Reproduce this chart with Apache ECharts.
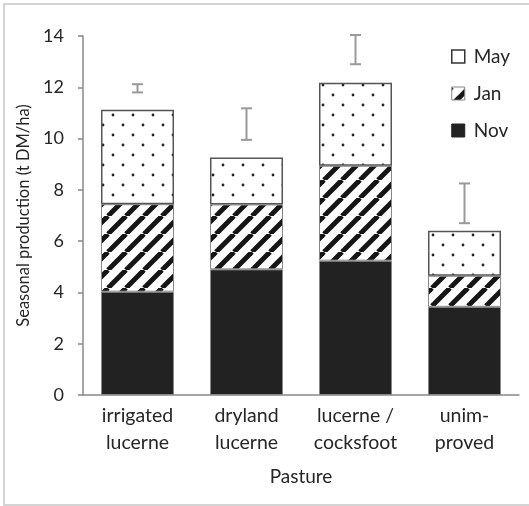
<!DOCTYPE html>
<html><head><meta charset="utf-8">
<script src="https://cdn.jsdelivr.net/npm/echarts@6/dist/echarts.min.js"></script>
<style>html,body{margin:0;padding:0;background:#fff}#c{width:529px;height:506px}</style>
</head><body><div id="c"></div>
<script>
// ---- data ----
const categories = ['irrigated\nlucerne', 'dryland\nlucerne', 'lucerne /\ncocksfoot', 'unim-\nproved'];
const novValues = [4.03, 4.90, 5.24, 3.44];
const janValues = [3.41, 2.53, 3.70, 1.21];
const mayValues = [3.68, 1.83, 3.24, 1.76];
const errLow = [11.80, 9.95, 12.90, 6.70];
const errHigh = [12.12, 11.18, 14.04, 8.25];
const yTicks = [0, 2, 4, 6, 8, 10, 12, 14];

// ---- patterns ----
function stripePattern() {
  const s = 18, c = document.createElement('canvas');
  c.width = c.height = s;
  const g = c.getContext('2d');
  g.fillStyle = '#fff'; g.fillRect(0, 0, s, s);
  g.strokeStyle = '#151515'; g.lineWidth = 5;
  for (let k = -1; k <= 1; k++) {
    g.beginPath(); g.moveTo(k * s, s); g.lineTo(k * s + s, 0); g.stroke();
  }
  return c;
}
function dotPattern() {
  const s = 20, c = document.createElement('canvas');
  c.width = c.height = s;
  const g = c.getContext('2d');
  g.fillStyle = '#fff'; g.fillRect(0, 0, s, s);
  g.fillStyle = '#222';
  [[3, 5], [13, 15]].forEach(p => { g.beginPath(); g.arc(p[0], p[1], 1.4, 0, Math.PI * 2); g.fill(); });
  return c;
}
const stripes = { image: stripePattern(), repeat: 'repeat' };
const dots = { image: dotPattern(), repeat: 'repeat' };

const FONT = 'Lato';
const TXT = '#262626';
const chart = echarts.init(document.getElementById('c'), null, { renderer: 'canvas' });
chart.setOption({
  animation: false,
  backgroundColor: '#fff',
  textStyle: { fontFamily: FONT },
  graphic: [{
    type: 'rect', shape: { x: 4, y: 4, width: 540, height: 501 },
    style: { fill: 'none', stroke: '#d4d4d4', lineWidth: 2 }, silent: true, z: -10
  }],
  grid: { left: 83, right: 10, top: 36, bottom: 111 },
  legend: {
    orient: 'vertical', left: 446, top: 42, itemWidth: 13, itemHeight: 13, itemGap: 18,
    textStyle: { fontFamily: FONT, fontSize: 19, color: TXT, padding: [0, 0, 0, 4] },
    data: [
      { name: 'May', icon: 'rect', itemStyle: { color: '#fff', borderColor: '#333', borderWidth: 1.5 } },
      { name: 'Jan', icon: 'rect', itemStyle: { color: stripes, borderColor: '#888', borderWidth: 1 } },
      { name: 'Nov', icon: 'rect', itemStyle: { color: '#222', borderColor: '#222', borderWidth: 1 } }
    ]
  },
  xAxis: {
    type: 'category', data: categories,
    name: 'Pasture', nameLocation: 'middle', nameGap: 72,
    nameTextStyle: { fontFamily: FONT, fontSize: 19, color: TXT },
    axisLine: { lineStyle: { color: '#888', width: 1.5 } },
    axisTick: { show: false },
    axisLabel: { fontFamily: FONT, fontSize: 19.5, color: TXT, lineHeight: 27, margin: 7, interval: 0 }
  },
  yAxis: {
    type: 'value', min: yTicks[0], max: yTicks[yTicks.length - 1], interval: 2,
    name: 'Seasonal production (t DM/ha)', nameLocation: 'middle', nameGap: 50,
    nameTextStyle: { fontFamily: FONT, fontSize: 16.5, color: TXT },
    axisLine: { show: true, lineStyle: { color: '#888', width: 1.5 } },
    axisTick: { show: true, length: 5, lineStyle: { color: '#888', width: 1.5 } },
    splitLine: { show: false },
    axisLabel: { fontFamily: FONT, fontSize: 18, color: TXT, margin: 19 }
  },
  series: [
    { name: 'Nov', type: 'bar', stack: 'a', barWidth: '67%', data: novValues,
      itemStyle: { color: '#222', borderColor: '#888', borderWidth: 1 } },
    { name: 'Jan', type: 'bar', stack: 'a', barWidth: '67%', data: janValues,
      itemStyle: { color: stripes, borderColor: '#888', borderWidth: 1 } },
    { name: 'May', type: 'bar', stack: 'a', barWidth: '67%', data: mayValues,
      itemStyle: { color: dots, borderColor: '#555', borderWidth: 1.5 } },
    { name: 'err', type: 'custom',
      data: categories.map((c, i) => [i, errLow[i], errHigh[i]]),
      encode: { x: 0, y: [1, 2] }, z: 5,
      renderItem: function (params, api) {
        const lo = api.coord([api.value(0), api.value(1)]);
        const hi = api.coord([api.value(0), api.value(2)]);
        const w = 5.5, st = { stroke: '#999', lineWidth: 2 };
        return { type: 'group', children: [
          { type: 'line', shape: { x1: lo[0], y1: lo[1], x2: hi[0], y2: hi[1] }, style: st },
          { type: 'line', shape: { x1: lo[0] - w, y1: lo[1], x2: lo[0] + w, y2: lo[1] }, style: st },
          { type: 'line', shape: { x1: hi[0] - w, y1: hi[1], x2: hi[0] + w, y2: hi[1] }, style: st }
        ] };
      }
    }
  ]
});
</script></body></html>
